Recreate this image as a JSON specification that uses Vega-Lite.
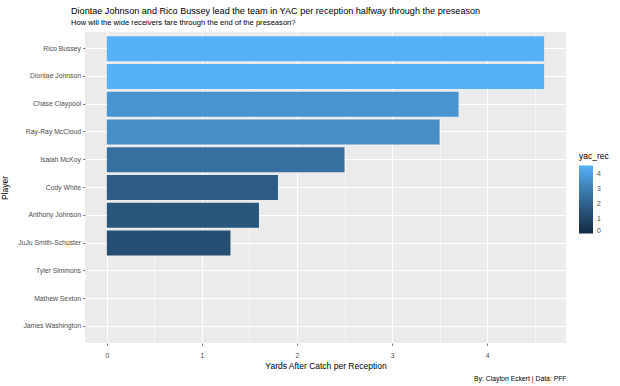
{
  "$schema": "https://vega.github.io/schema/vega-lite/v6.json",
  "autosize": {"type": "none"},
  "width": 481,
  "height": 311,
  "padding": {"left": 85, "top": 32, "right": 54, "bottom": 43},
  "background": "white",
  "config": {
    "font": "Liberation Sans",
    "view": {"fill": "#EBEBEB", "stroke": null},
    "axis": {"labelFont": "Liberation Sans", "titleFont": "Liberation Sans"}
  },
  "title": {
    "text": "Diontae Johnson and Rico Bussey lead the team in YAC per reception halfway through the preseason",
    "subtitle": "How will the wide receivers fare through the end of the preseason?",
    "anchor": "start",
    "frame": "group",
    "dx": -14,
    "offset": 5,
    "fontSize": 9.1,
    "fontWeight": "normal",
    "color": "#000000",
    "subtitleFontSize": 7.6,
    "subtitleColor": "#000000",
    "subtitlePadding": 3,
    "font": "Liberation Sans",
    "subtitleFont": "Liberation Sans"
  },
  "data": {
    "values": [
      {"Player": "Rico Bussey", "yac_rec": 4.6},
      {"Player": "Diontae Johnson", "yac_rec": 4.6},
      {"Player": "Chase Claypool", "yac_rec": 3.7},
      {"Player": "Ray-Ray McCloud", "yac_rec": 3.5},
      {"Player": "Isaiah McKoy", "yac_rec": 2.5},
      {"Player": "Cody White", "yac_rec": 1.8},
      {"Player": "Anthony Johnson", "yac_rec": 1.6},
      {"Player": "JuJu Smith-Schuster", "yac_rec": 1.3},
      {"Player": "Tyler Simmons", "yac_rec": 0},
      {"Player": "Mathew Sexton", "yac_rec": 0},
      {"Player": "James Washington", "yac_rec": 0}
    ]
  },
  "encoding": {
    "y": {
      "field": "Player",
      "type": "nominal",
      "sort": ["Rico Bussey", "Diontae Johnson", "Chase Claypool", "Ray-Ray McCloud", "Isaiah McKoy", "Cody White", "Anthony Johnson", "JuJu Smith-Schuster", "Tyler Simmons", "Mathew Sexton", "James Washington"],
      "scale": {"paddingInner": 0.1, "paddingOuter": 0.15},
      "axis": {
        "title": "Player",
        "titleFontSize": 8.5,
        "titleFontWeight": "normal",
        "titleColor": "#000000",
        "titlePadding": 8,
        "labelFontSize": 6.8,
        "labelColor": "#4D4D4D",
        "labelPadding": 2,
        "tickColor": "#333333",
        "tickSize": 2.5,
        "tickWidth": 0.6,
        "domain": false,
        "grid": true,
        "gridColor": "#FFFFFF",
        "gridWidth": 1,
        "bandPosition": 0.5
      }
    }
  },
  "layer": [
    {
      "mark": {"type": "bar"},
      "encoding": {
        "x": {
          "field": "yac_rec",
          "type": "quantitative",
          "scale": {"domain": [-0.23, 4.83], "nice": false, "zero": false},
          "axis": {
            "orient": "bottom",
            "title": "Yards After Catch per Reception",
            "titleFontSize": 8.5,
            "titleFontWeight": "normal",
            "titleColor": "#000000",
            "titlePadding": 2,
            "values": [0, 1, 2, 3, 4],
            "labelFontSize": 6.8,
            "labelColor": "#4D4D4D",
            "labelPadding": 7,
            "tickColor": "#333333",
            "tickSize": 2.5,
            "tickWidth": 0.6,
            "domain": false,
            "grid": true,
            "gridColor": "#FFFFFF",
            "gridWidth": 1,
            "zindex": 0
          }
        },
        "x2": {"datum": 0},
        "color": {
          "field": "yac_rec",
          "type": "quantitative",
          "scale": {"domain": [0, 4.6], "range": ["#132B43", "#56B1F7"], "interpolate": "lab", "nice": false, "zero": false},
          "legend": {
            "title": "yac_rec",
            "orient": "none",
            "legendX": 494,
            "legendY": 120,
            "values": [0, 1, 2, 3, 4],
            "gradientLength": 68,
            "gradientThickness": 14,
            "titleFontSize": 8.5,
            "titleFontWeight": "normal",
            "titleColor": "#000000",
            "titleFont": "Liberation Sans",
            "titlePadding": 5,
            "labelFontSize": 6.8,
            "labelColor": "#4D4D4D",
            "labelFont": "Liberation Sans",
            "labelOffset": 4,
            "gradientStrokeWidth": 0
          }
        }
      }
    },
    {
      "mark": {"type": "tick", "opacity": 0},
      "encoding": {
        "x": {
          "field": "yac_rec",
          "type": "quantitative",
          "axis": {
            "orient": "bottom",
            "title": "By: Clayton Eckert | Data: PFF",
            "titleAnchor": "end",
            "titleFontSize": 6.8,
            "titleFontWeight": "normal",
            "titleColor": "#000000",
            "titlePadding": 0,
            "values": [0.5, 1.5, 2.5, 3.5, 4.5],
            "labels": false,
            "ticks": false,
            "domain": false,
            "grid": true,
            "gridColor": "#FFFFFF",
            "gridWidth": 0.5,
            "offset": 32
          }
        }
      }
    }
  ],
  "resolve": {"axis": {"x": "independent"}}
}
